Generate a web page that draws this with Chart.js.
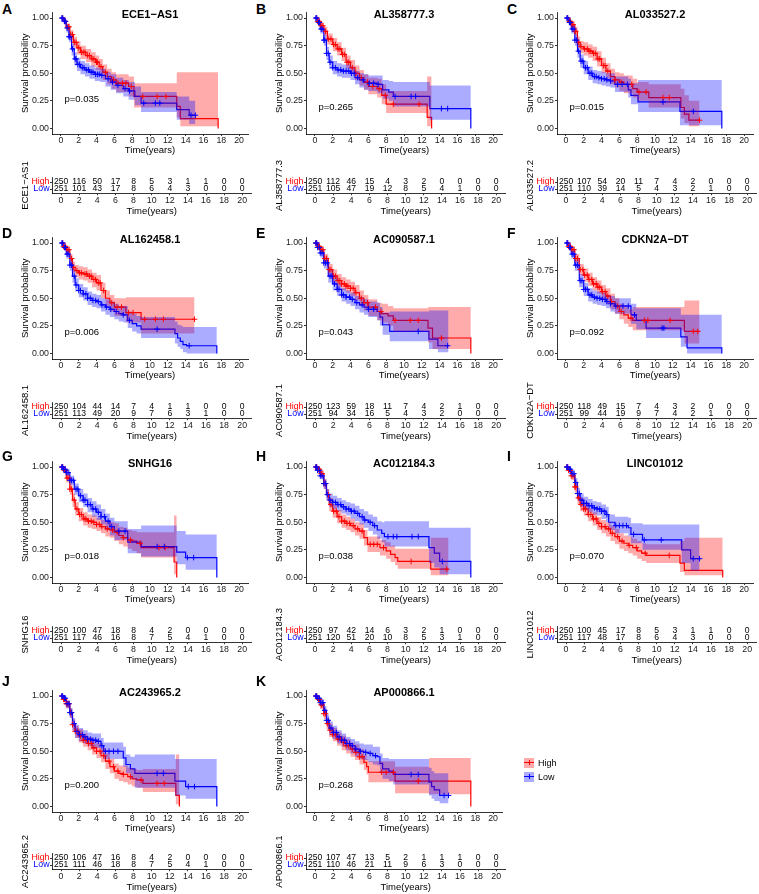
<!DOCTYPE html>
<html><head><meta charset="utf-8">
<script src="https://cdn.jsdelivr.net/npm/chart.js@4.4.0/dist/chart.umd.min.js"></script>
<style>
body{margin:0;background:#fff;width:759px;height:894px;position:relative;overflow:hidden;font-family:"Liberation Sans",Arial,sans-serif;}
canvas{position:absolute;}
.lt{position:absolute;font-weight:bold;font-size:14px;line-height:14px;color:#000;}
.lg{position:absolute;font-size:9px;line-height:10px;color:#000;}
</style></head><body>
<script>
// ---------------- DATA ----------------
const genes = ['ECE1−AS1','AL358777.3','AL033527.2','AL162458.1','AC090587.1','CDKN2A−DT','SNHG16','AC012184.3','LINC01012','AC243965.2','AP000866.1'];
const panelLetters = ['A','B','C','D','E','F','G','H','I','J','K'];
const pValues = [0.035,0.265,0.015,0.006,0.043,0.092,0.018,0.038,0.070,0.200,0.268];
const groupNames = ['High','Low'];
const riskTimes = [0,2,4,6,8,10,12,14,16,18,20];
const xTicks = [0,2,4,6,8,10,12,14,16,18,20];
const yTicks = [0,0.25,0.5,0.75,1];

// A ECE1-AS1
const A_high_t=[0,.3,.6,1.0,1.4,1.8,2.2,2.8,3.4,3.9,4.3,4.7,5.2,5.7,6.2,7.6,8.2,13.0,13.4,17.65];
const A_high_s=[1,.97,.92,.85,.78,.73,.69,.66,.63,.60,.56,.51,.47,.44,.41,.38,.29,.20,.09,0];
const A_high_lcl=[1,.95,.89,.80,.73,.67,.63,.60,.56,.53,.49,.44,.40,.36,.33,.29,.19,.10,.02,.02];
const A_high_ucl=[1,.99,.95,.89,.83,.79,.75,.72,.69,.66,.63,.58,.54,.51,.49,.47,.41,.51,.51,.51];
const A_high_cens=[0.2,0.4,0.5,0.8,0.9,1.1,1.3,1.5,1.7,2.0,2.3,2.5,2.7,3.0,3.2,3.5,3.7,4.0,4.1,4.5,5.0,5.9,6.4,6.9,7.3,7.9,9.2,10.8,11.8];
const A_low_t=[0,.3,.6,.9,1.2,1.5,1.8,2.2,2.7,3.2,3.8,4.4,5.0,5.6,6.2,7.0,7.6,8.3,9.0,13.0,14.4,15.1];
const A_low_s=[1,.97,.91,.83,.72,.63,.58,.55,.53,.51,.49,.48,.45,.42,.39,.36,.34,.29,.23,.17,.12,.12];
const A_low_lcl=[1,.95,.87,.78,.66,.57,.52,.49,.47,.45,.43,.42,.38,.35,.32,.29,.26,.21,.15,.08,.04,.04];
const A_low_ucl=[1,.99,.94,.87,.77,.69,.64,.61,.59,.57,.55,.54,.51,.49,.46,.44,.42,.38,.33,.29,.25,.25];
const A_low_cens=[0.1,0.2,0.4,0.5,0.7,0.9,1.0,1.3,1.6,1.7,1.9,2.1,2.4,2.6,2.9,3.1,3.4,3.6,3.9,4.1,4.3,4.6,5.3,5.8,6.4,7.2,7.7,9.3,10.6,11.1,14.6,15.1];
const A_high_risk=[250,116,50,17,8,5,3,1,1,0,0];
const A_low_risk=[251,101,43,17,8,6,4,3,0,0,0];

// B AL358777.3
const B_high_t=[0,.3,.6,1.0,1.4,2.0,2.5,3.0,3.5,4.0,4.5,5.0,5.5,6.0,7.0,7.5,8.0,12.6,13.1];
const B_high_s=[1,.97,.93,.88,.81,.76,.72,.67,.60,.55,.50,.46,.42,.38,.36,.30,.22,.10,0];
const B_high_lcl=[1,.95,.90,.84,.76,.70,.66,.61,.54,.49,.44,.39,.35,.31,.28,.22,.14,.02,.02];
const B_high_ucl=[1,.99,.96,.92,.86,.82,.78,.73,.66,.62,.57,.53,.49,.46,.45,.40,.34,.47,.47];
const B_high_cens=[0.2,0.3,0.5,0.7,0.9,1.2,1.5,1.8,2.1,2.3,2.6,2.8,3.1,3.3,3.6,3.8,4.2,4.6,5.2,5.9,6.5,7.2,7.9,8.8,11.7];
const B_low_t=[0,.3,.6,1.0,1.3,1.6,2.0,2.5,3.0,4.0,4.5,5.0,5.5,6.0,7.0,7.6,8.3,8.8,12.9,17.5];
const B_low_s=[1,.96,.90,.80,.68,.60,.55,.53,.52,.50,.46,.44,.42,.41,.40,.35,.33,.29,.18,0];
const B_low_lcl=[1,.94,.86,.75,.62,.54,.49,.47,.46,.44,.40,.37,.35,.34,.32,.27,.25,.20,.08,.08];
const B_low_ucl=[1,.98,.94,.85,.74,.66,.61,.59,.58,.56,.52,.50,.49,.48,.48,.44,.43,.42,.39,.39];
const B_low_cens=[0.1,0.2,0.4,0.5,0.7,0.8,1.0,1.1,1.3,1.5,1.7,2.0,2.3,2.6,2.9,3.2,3.5,3.8,4.1,4.4,4.8,5.4,6.1,6.6,7.1,9.0,10.8,11.3,14.2,14.9];
const B_high_risk=[250,112,46,15,4,3,2,0,0,0,0];
const B_low_risk=[251,105,47,19,12,8,5,4,1,0,0];

// C AL033527.2
const C_high_t=[0,.3,.6,1.0,1.3,1.6,2.0,2.5,3.0,3.5,4.0,4.5,5.0,5.5,6.0,6.5,7.5,8.0,9.3,12.9,13.3,13.8,15.0];
const C_high_s=[1,.97,.94,.88,.78,.74,.72,.70,.68,.63,.57,.52,.47,.44,.42,.40,.36,.33,.28,.19,.13,.075,.075];
const C_high_lcl=[1,.95,.91,.84,.73,.68,.66,.64,.61,.56,.50,.45,.40,.37,.34,.32,.28,.25,.19,.09,.05,.02,.02];
const C_high_ucl=[1,.99,.97,.92,.83,.79,.78,.76,.74,.70,.64,.59,.54,.51,.50,.48,.45,.42,.40,.36,.30,.25,.25];
const C_high_cens=[0.2,0.4,0.5,0.7,0.8,1.0,1.1,1.4,1.7,2.1,2.4,2.6,2.8,3.1,3.3,3.6,3.8,4.2,4.4,4.7,5.5,6.2,7.4,8.2,9.0,10.9,11.6,15.0];
const C_low_t=[0,.3,.6,1.0,1.3,1.6,2.0,2.5,3.0,3.5,4.0,4.5,5.0,5.5,7.0,7.3,8.1,12.8,17.5];
const C_low_s=[1,.96,.90,.80,.70,.61,.55,.50,.47,.46,.45,.44,.43,.40,.35,.30,.24,.155,0];
const C_low_lcl=[1,.94,.86,.75,.64,.55,.49,.44,.41,.40,.39,.38,.37,.33,.28,.22,.15,.03,.03];
const C_low_ucl=[1,.98,.94,.85,.76,.67,.61,.56,.53,.52,.51,.50,.50,.47,.45,.41,.44,.44,.44];
const C_low_cens=[0.1,0.2,0.4,0.5,0.7,0.9,1.0,1.2,1.4,1.7,1.9,2.2,2.4,2.7,2.9,3.2,3.4,3.7,4.0,4.3,4.6,5.0,5.8,6.3,6.9,10.9,14.3];
const C_high_risk=[250,107,54,20,11,7,4,2,0,0,0];
const C_low_risk=[251,110,39,14,5,4,3,2,1,0,0];

// D AL162458.1
const D_high_t=[0,.3,.6,1.0,1.3,1.6,2.0,2.5,3.0,3.5,4.0,4.5,5.0,5.5,6.0,7.3,9.0,15.0];
const D_high_s=[1,.97,.94,.86,.78,.75,.73,.72,.70,.67,.64,.57,.50,.46,.42,.37,.31,.31];
const D_high_lcl=[1,.95,.91,.81,.73,.69,.67,.66,.64,.60,.57,.50,.43,.38,.34,.28,.18,.18];
const D_high_ucl=[1,.99,.97,.90,.83,.80,.79,.78,.76,.73,.71,.64,.57,.53,.50,.51,.51,.51];
const D_high_cens=[0.2,0.3,0.5,0.7,0.9,1.2,1.4,1.8,2.1,2.3,2.7,2.9,3.2,3.4,3.7,3.9,4.2,4.4,4.8,5.7,6.3,6.8,7.6,8.1,9.4,10.6,11.5,15.0];
const D_low_t=[0,.3,.6,1.0,1.3,1.6,2.0,2.5,3.0,3.5,4.0,4.5,5.0,5.5,6.0,6.5,7.0,7.5,8.0,8.5,9.0,12.8,13.1,13.4,13.7,14.1,17.5];
const D_low_s=[1,.96,.90,.80,.70,.62,.57,.54,.50,.48,.47,.44,.42,.40,.38,.36,.35,.30,.27,.25,.22,.18,.14,.11,.08,.07,0];
const D_low_lcl=[1,.94,.86,.75,.64,.56,.51,.48,.44,.42,.41,.38,.35,.33,.31,.29,.28,.23,.20,.18,.14,.09,.06,.04,.01,0,0];
const D_low_ucl=[1,.98,.94,.85,.76,.68,.63,.60,.56,.54,.53,.50,.49,.47,.45,.43,.43,.38,.36,.34,.33,.29,.26,.25,.24,.24,.24];
const D_low_cens=[0.1,0.2,0.4,0.5,0.7,0.8,1.0,1.2,1.5,1.7,2.0,2.2,2.5,2.8,3.0,3.3,3.6,3.9,4.2,4.6,5.1,5.6,6.2,7.0,7.7,10.8,14.4];
const D_high_risk=[250,104,44,14,7,4,1,1,0,0,0];
const D_low_risk=[251,113,49,20,9,7,6,3,1,0,0];

// E AC090587.1
const E_high_t=[0,.3,.6,1.0,1.5,2.0,2.5,3.0,3.5,4.0,4.5,5.0,5.5,6.0,7.0,7.5,8.2,8.8,12.7,13.2,17.5];
const E_high_s=[1,.97,.94,.86,.76,.70,.66,.63,.61,.59,.55,.50,.46,.42,.38,.36,.34,.30,.23,.14,0];
const E_high_lcl=[1,.95,.91,.82,.71,.64,.60,.57,.55,.52,.48,.43,.39,.34,.30,.28,.25,.20,.10,.04,.04];
const E_high_ucl=[1,.99,.97,.90,.81,.76,.72,.69,.67,.65,.62,.57,.53,.49,.46,.45,.43,.41,.42,.42,.42];
const E_high_cens=[0.1,0.2,0.4,0.5,0.7,0.9,1.1,1.3,1.6,1.8,2.1,2.3,2.6,2.8,3.0,3.3,3.5,3.7,4.0,4.3,4.6,5.2,5.5,5.9,6.8,7.4,9.0,10.7,11.6,14.2];
const E_low_t=[0,.3,.6,1.0,1.5,2.0,2.5,3.0,3.5,4.0,4.5,5.0,5.5,6.0,7.0,7.3,7.6,8.4,12.8,13.8,15.0];
const E_low_s=[1,.96,.91,.82,.70,.63,.58,.53,.51,.49,.46,.44,.42,.40,.38,.33,.26,.20,.13,.07,.07];
const E_low_lcl=[1,.94,.87,.77,.64,.57,.52,.47,.45,.43,.40,.37,.35,.33,.30,.25,.17,.11,.04,.01,.01];
const E_low_ucl=[1,.98,.95,.87,.76,.69,.64,.59,.57,.55,.52,.51,.49,.47,.46,.42,.37,.38,.39,.39,.39];
const E_low_cens=[0.1,0.2,0.3,0.5,0.6,0.8,1.0,1.2,1.4,1.7,1.9,2.2,2.5,2.7,3.0,3.2,3.5,3.9,4.2,4.7,5.3,6.0,6.6,11.6,14.9];
const E_high_risk=[250,123,59,18,11,7,4,2,1,0,0];
const E_low_risk=[251,94,34,16,5,4,3,2,0,0,0];

// F CDKN2A-DT
const F_high_t=[0,.3,.6,1.0,1.5,2.0,2.5,3.0,3.5,4.0,4.5,5.0,5.5,6.0,6.5,7.0,7.5,13.3,15.0];
const F_high_s=[1,.97,.94,.86,.76,.71,.67,.63,.60,.56,.52,.47,.43,.38,.35,.32,.30,.20,.20];
const F_high_lcl=[1,.95,.91,.82,.71,.65,.61,.57,.54,.49,.45,.40,.36,.31,.27,.24,.21,.09,.09];
const F_high_ucl=[1,.99,.97,.90,.81,.77,.73,.69,.66,.62,.59,.54,.50,.45,.43,.40,.42,.48,.48];
const F_high_cens=[0.2,0.3,0.5,0.7,0.9,1.1,1.3,1.6,1.9,2.1,2.4,2.6,2.9,3.1,3.4,3.6,3.8,4.1,4.4,4.7,5.1,5.8,6.2,7.3,8.8,9.2,11.7,14.3,14.8];
const F_low_t=[0,.3,.6,1.0,1.5,2.0,2.5,3.0,3.5,4.0,4.5,5.0,5.5,7.3,7.9,9.0,12.9,13.6,17.5];
const F_low_s=[1,.96,.90,.80,.66,.58,.53,.51,.50,.49,.47,.45,.43,.35,.30,.23,.15,.05,0];
const F_low_lcl=[1,.94,.86,.75,.60,.52,.47,.45,.44,.43,.41,.38,.36,.27,.22,.14,.06,0,0];
const F_low_ucl=[1,.98,.94,.85,.72,.64,.59,.57,.56,.55,.53,.52,.50,.45,.41,.41,.35,.35,.35];
const F_low_cens=[0.1,0.2,0.4,0.5,0.7,0.9,1.1,1.3,1.6,1.8,2.0,2.2,2.4,2.7,2.9,3.2,3.5,3.8,4.1,4.4,4.6,5.0,5.6,6.4,7.0,7.7,10.8,11.0];
const F_high_risk=[250,118,49,15,7,4,3,2,0,0,0];
const F_low_risk=[251,99,44,19,9,7,4,2,1,0,0];

// G SNHG16
const G_high_t=[0,.3,.6,1.0,1.3,1.6,2.0,2.5,3.0,3.5,4.0,4.5,5.0,5.5,6.0,6.5,7.0,7.5,8.0,8.5,9.0,12.7,13.0];
const G_high_s=[1,.97,.90,.80,.70,.62,.57,.53,.51,.50,.48,.46,.44,.43,.41,.38,.36,.34,.33,.31,.27,.14,0];
const G_high_lcl=[1,.95,.86,.75,.64,.56,.51,.47,.45,.44,.42,.40,.37,.36,.33,.30,.28,.26,.24,.22,.18,.03,.03];
const G_high_ucl=[1,.99,.94,.85,.76,.68,.63,.59,.57,.56,.54,.52,.51,.50,.49,.46,.45,.43,.42,.41,.41,.56,.56];
const G_high_cens=[0.1,0.2,0.4,0.5,0.7,0.9,1.0,1.2,1.5,1.8,2.1,2.3,2.6,2.8,3.1,3.4,3.7,4.0,4.3,4.6,5.2,5.8,6.3,7.0,7.8,8.9,11.0,11.7];
const G_low_t=[0,.3,.6,1.0,1.5,2.0,2.5,3.0,3.5,4.0,4.5,5.0,5.5,6.0,7.5,9.0,13.0,14.0,17.5];
const G_low_s=[1,.98,.95,.88,.80,.74,.70,.66,.62,.59,.55,.51,.46,.42,.32,.28,.23,.18,0];
const G_low_lcl=[1,.97,.92,.84,.75,.68,.64,.59,.55,.52,.48,.43,.38,.34,.22,.19,.12,.07,.07];
const G_low_ucl=[1,.99,.98,.92,.85,.80,.76,.72,.69,.66,.62,.58,.54,.51,.44,.47,.42,.39,.39];
const G_low_cens=[0.1,0.2,0.3,0.5,0.6,0.8,1.0,1.2,1.4,1.7,1.9,2.2,2.5,2.7,3.0,3.3,3.6,3.9,4.2,4.5,4.9,5.3,5.7,6.5,7.2,10.8,11.6,14.2,14.9];
const G_high_risk=[250,100,47,18,8,4,2,0,0,0,0];
const G_low_risk=[251,117,46,16,8,7,5,4,1,0,0];

// H AC012184.3
const H_high_t=[0,.3,.6,1.0,1.3,1.6,2.0,2.5,3.0,3.5,4.0,4.5,5.0,5.5,5.9,7.3,8.0,8.5,9.0,9.3,13.0,15.0];
const H_high_s=[1,.98,.94,.85,.75,.66,.60,.55,.51,.49,.47,.44,.42,.36,.30,.27,.24,.21,.18,.145,.075,.075];
const H_high_lcl=[1,.96,.91,.80,.70,.60,.54,.49,.45,.43,.41,.38,.35,.29,.23,.20,.17,.14,.11,.08,.02,.02];
const H_high_ucl=[1,1,.97,.89,.80,.72,.66,.61,.57,.55,.53,.50,.49,.43,.37,.34,.32,.29,.26,.26,.36,.36];
const H_high_cens=[0.1,0.2,0.3,0.4,0.5,0.7,0.8,1.0,1.2,1.5,1.8,2.1,2.4,2.7,3.0,3.3,3.6,3.9,4.3,4.8,5.3,6.2,6.6,7.0,7.7,10.8,14.8];
const H_low_t=[0,.3,.6,1.0,1.3,1.6,2.0,2.5,3.0,3.5,4.0,4.5,5.0,5.5,6.0,6.5,7.0,7.5,7.8,12.8,13.4,14.0,17.5];
const H_low_s=[1,.97,.92,.85,.75,.70,.68,.66,.64,.62,.60,.58,.55,.52,.50,.47,.43,.40,.37,.27,.22,.145,0];
const H_low_lcl=[1,.95,.89,.80,.70,.64,.62,.60,.58,.56,.53,.51,.48,.45,.42,.39,.35,.32,.28,.13,.09,.03,.03];
const H_low_ucl=[1,.99,.95,.89,.80,.76,.74,.72,.70,.68,.67,.65,.62,.60,.57,.55,.51,.50,.51,.45,.45,.45,.45];
const H_low_cens=[0.1,0.2,0.3,0.5,0.6,0.8,1.0,1.2,1.4,1.7,2.0,2.3,2.6,2.9,3.2,3.5,3.8,4.1,4.4,4.8,5.3,5.6,6.2,6.7,8.2,8.8,9.2,10.9,11.6,14.3];
const H_high_risk=[250,97,42,14,6,3,2,1,0,0,0];
const H_low_risk=[251,120,51,20,10,8,5,3,1,0,0];

// I LINC01012
const I_high_t=[0,.3,.6,1.0,1.3,1.6,2.0,2.5,3.0,3.5,4.0,4.5,5.0,5.5,6.0,6.5,7.0,7.5,8.0,8.5,9.0,12.8,13.3,17.6];
const I_high_s=[1,.97,.92,.82,.72,.66,.62,.57,.53,.49,.46,.44,.40,.37,.33,.31,.29,.27,.24,.22,.20,.13,.065,0];
const I_high_lcl=[1,.95,.88,.77,.66,.60,.56,.51,.47,.43,.40,.37,.33,.30,.26,.24,.22,.20,.17,.15,.13,.05,.02,.02];
const I_high_ucl=[1,.99,.95,.87,.77,.72,.68,.63,.59,.55,.52,.50,.47,.44,.40,.38,.37,.35,.33,.31,.30,.33,.36,.36];
const I_high_cens=[0.1,0.2,0.3,0.5,0.6,0.8,1.0,1.1,1.4,1.7,2.0,2.2,2.5,2.8,3.1,3.4,3.7,4.0,4.4,4.8,5.2,5.8,6.3,7.1,7.9,8.9,11.6];
const I_low_t=[0,.3,.6,1.0,1.3,1.6,2.0,2.5,3.0,3.5,4.0,4.5,4.8,5.5,7.0,7.3,8.6,13.0,14.0,15.0];
const I_low_s=[1,.98,.94,.86,.76,.70,.67,.65,.63,.62,.60,.57,.50,.47,.45,.39,.34,.25,.17,.17];
const I_low_lcl=[1,.96,.91,.81,.70,.64,.61,.59,.57,.56,.53,.50,.43,.40,.37,.31,.25,.13,.06,.06];
const I_low_ucl=[1,1,.97,.90,.81,.76,.73,.71,.69,.68,.66,.64,.57,.55,.54,.49,.48,.48,.48,.48];
const I_low_cens=[0.1,0.2,0.4,0.5,0.7,0.9,1.1,1.3,1.5,1.8,2.0,2.3,2.6,2.9,3.2,3.5,3.8,4.0,4.3,4.6,5.6,6.0,6.4,6.8,7.6,8.8,10.7,14.3,15.0];
const I_high_risk=[250,100,45,17,8,5,3,1,1,0,0];
const I_low_risk=[251,117,48,17,8,6,4,3,0,0,0];

// J AC243965.2
const J_high_t=[0,.3,.6,1.0,1.3,1.6,2.0,2.5,3.0,3.5,4.0,4.5,5.0,5.5,6.0,6.5,7.0,7.5,8.0,8.5,9.2,12.9,13.3];
const J_high_s=[1,.97,.93,.85,.74,.68,.64,.60,.57,.53,.50,.46,.41,.36,.32,.30,.29,.27,.25,.24,.21,.10,0];
const J_high_lcl=[1,.95,.89,.80,.68,.62,.58,.54,.51,.47,.44,.40,.34,.30,.25,.23,.22,.20,.18,.17,.13,.02,.02];
const J_high_ucl=[1,.99,.96,.89,.79,.73,.70,.66,.63,.59,.57,.53,.48,.43,.39,.37,.37,.35,.34,.33,.34,.47,.47];
const J_high_cens=[0.1,0.3,0.4,0.6,0.7,0.9,1.1,1.3,1.6,1.9,2.2,2.5,2.8,3.1,3.4,3.7,4.0,4.4,4.8,5.4,5.9,6.4,7.0,7.8,9.0,10.8,11.6];
const J_low_t=[0,.3,.6,1.0,1.3,1.6,2.0,2.5,3.0,3.5,4.0,4.5,4.8,7.0,7.3,7.8,8.3,12.8,14.0,17.5];
const J_low_s=[1,.98,.93,.85,.75,.68,.65,.63,.61,.60,.59,.55,.50,.44,.38,.34,.30,.23,.18,0];
const J_low_lcl=[1,.96,.89,.80,.69,.62,.59,.57,.55,.53,.53,.48,.43,.36,.30,.25,.17,.10,.07,.07];
const J_low_ucl=[1,1,.96,.89,.80,.74,.71,.69,.67,.66,.66,.62,.58,.54,.47,.45,.47,.43,.43,.43];
const J_low_cens=[0.1,0.2,0.4,0.5,0.7,0.9,1.0,1.2,1.5,1.8,2.1,2.4,2.7,3.0,3.3,3.6,3.9,4.2,4.6,5.0,5.4,5.9,6.4,10.8,11.5,14.3,15.0];
const J_high_risk=[250,106,47,16,8,4,2,0,0,0,0];
const J_low_risk=[251,111,46,18,8,7,5,4,1,0,0];

// K AP000866.1
const K_high_t=[0,.3,.6,1.0,1.3,1.6,2.0,2.5,3.0,3.5,4.0,4.5,5.0,5.5,5.8,6.0,9.0,12.8,17.5];
const K_high_s=[1,.97,.92,.84,.75,.69,.65,.61,.58,.55,.52,.49,.45,.40,.36,.31,.23,.23,0];
const K_high_lcl=[1,.95,.88,.79,.70,.63,.59,.55,.51,.48,.45,.42,.38,.33,.29,.22,.12,.11,.11];
const K_high_ucl=[1,.99,.95,.88,.80,.75,.71,.67,.64,.61,.58,.56,.52,.47,.43,.41,.36,.44,.44];
const K_high_cens=[0.1,0.2,0.4,0.5,0.7,0.8,1.0,1.2,1.4,1.7,2.0,2.3,2.6,2.9,3.2,3.5,3.8,4.2,4.6,5.0,5.3,7.5,8.0,8.8,11.6];
const K_low_t=[0,.3,.6,1.0,1.3,1.6,2.0,2.5,3.0,3.5,4.0,4.5,5.0,5.5,6.0,6.5,7.0,7.3,7.6,8.3,8.8,12.8,13.1,13.4,14.0,15.0];
const K_low_s=[1,.98,.94,.87,.78,.71,.67,.63,.60,.57,.55,.52,.50,.49,.48,.46,.45,.39,.34,.32,.29,.22,.18,.15,.10,.10];
const K_low_lcl=[1,.96,.91,.83,.73,.65,.61,.57,.54,.51,.48,.45,.43,.42,.40,.38,.37,.30,.25,.23,.20,.10,.07,.05,.03,.03];
const K_low_ucl=[1,1,.97,.91,.83,.77,.73,.69,.66,.63,.61,.59,.57,.56,.56,.54,.54,.48,.44,.43,.43,.35,.32,.30,.30,.30];
const K_low_cens=[0.1,0.2,0.3,0.5,0.6,0.8,0.9,1.1,1.3,1.5,1.8,2.1,2.4,2.7,3.0,3.3,3.6,3.9,4.2,4.6,5.1,5.7,6.2,6.8,10.8,11.6,14.5,15.0];
const K_high_risk=[250,107,47,13,5,2,1,1,1,0,0];
const K_low_risk=[251,110,46,21,11,9,6,3,0,0,0];

// ---------------- LAYOUT / STYLE ----------------
const colX = [0, 254, 505];
const rowY = [0, 225, 449, 678];
const letterTop = [2, 226, 449, 674];
const tableShift = [0, 0, 0, -2];
const pLabelY = [0.26,0.19,0.19,0.19,0.19,0.19,0.19,0.19,0.19,0.19,0.19];
const pLabelX = 0.4;
const RED = '#FF0000', BLUE = '#0000FF';
const RED_FILL = 'rgba(255,0,0,0.33)', BLUE_FILL = 'rgba(0,0,255,0.33)';
const FF = '"Liberation Sans", Arial, sans-serif';
const TICK = '#1a1a1a';

function grp(t,s,lcl,ucl,cens,risk){return {t,s,lcl,ucl,cens,risk};}
const panels = [
 [grp(A_high_t,A_high_s,A_high_lcl,A_high_ucl,A_high_cens,A_high_risk), grp(A_low_t,A_low_s,A_low_lcl,A_low_ucl,A_low_cens,A_low_risk)],
 [grp(B_high_t,B_high_s,B_high_lcl,B_high_ucl,B_high_cens,B_high_risk), grp(B_low_t,B_low_s,B_low_lcl,B_low_ucl,B_low_cens,B_low_risk)],
 [grp(C_high_t,C_high_s,C_high_lcl,C_high_ucl,C_high_cens,C_high_risk), grp(C_low_t,C_low_s,C_low_lcl,C_low_ucl,C_low_cens,C_low_risk)],
 [grp(D_high_t,D_high_s,D_high_lcl,D_high_ucl,D_high_cens,D_high_risk), grp(D_low_t,D_low_s,D_low_lcl,D_low_ucl,D_low_cens,D_low_risk)],
 [grp(E_high_t,E_high_s,E_high_lcl,E_high_ucl,E_high_cens,E_high_risk), grp(E_low_t,E_low_s,E_low_lcl,E_low_ucl,E_low_cens,E_low_risk)],
 [grp(F_high_t,F_high_s,F_high_lcl,F_high_ucl,F_high_cens,F_high_risk), grp(F_low_t,F_low_s,F_low_lcl,F_low_ucl,F_low_cens,F_low_risk)],
 [grp(G_high_t,G_high_s,G_high_lcl,G_high_ucl,G_high_cens,G_high_risk), grp(G_low_t,G_low_s,G_low_lcl,G_low_ucl,G_low_cens,G_low_risk)],
 [grp(H_high_t,H_high_s,H_high_lcl,H_high_ucl,H_high_cens,H_high_risk), grp(H_low_t,H_low_s,H_low_lcl,H_low_ucl,H_low_cens,H_low_risk)],
 [grp(I_high_t,I_high_s,I_high_lcl,I_high_ucl,I_high_cens,I_high_risk), grp(I_low_t,I_low_s,I_low_lcl,I_low_ucl,I_low_cens,I_low_risk)],
 [grp(J_high_t,J_high_s,J_high_lcl,J_high_ucl,J_high_cens,J_high_risk), grp(J_low_t,J_low_s,J_low_lcl,J_low_ucl,J_low_cens,J_low_risk)],
 [grp(K_high_t,K_high_s,K_high_lcl,K_high_ucl,K_high_cens,K_high_risk), grp(K_low_t,K_low_s,K_low_lcl,K_low_ucl,K_low_cens,K_low_risk)]
];

Chart.defaults.font.family = FF;
Chart.defaults.animation = false;

function stepAt(ts, ss, c){ let v = ss[0]; for (let i=0;i<ts.length;i++){ if (ts[i] <= c + 1e-9) v = ss[i]; else break; } return v; }
function pts(t, v){ return t.map((x,i)=>({x, y:v[i]})); }

function xScale(h, padB){
  return {type:'linear', min:-1, max:21,
    afterBuildTicks: s => { s.ticks = xTicks.map(v=>({value:v})); },
    afterFit: s => { s.height = h; },
    ticks:{font:{size:8.8, lineHeight:1}, color:TICK, padding:0.5, maxRotation:0, autoSkip:false, callback:v=>String(v)},
    grid:{display:true, drawOnChartArea:false, drawTicks:true, tickLength:2, tickColor:'#000', tickWidth:0.8},
    border:{display:true, color:'#000', width:0.8},
    title:{display:true, text:'Time(years)', font:{size:9.5, lineHeight:1.2}, color:'#000', padding:{top:0, bottom:padB}}
  };
}

const kmText = {
  id:'kmText',
  afterDraw(chart, args, o){
    const {ctx, chartArea, scales} = chart;
    ctx.save();
    ctx.fillStyle = '#000';
    ctx.font = 'bold 11px ' + FF;
    ctx.textAlign = 'center'; ctx.textBaseline = 'middle';
    ctx.fillText(o.title, (chartArea.left + chartArea.right)/2, o.titleY);
    ctx.font = '9.5px ' + FF;
    ctx.textAlign = 'left';
    ctx.fillText('p=' + o.p.toFixed(3), scales.x.getPixelForValue(pLabelX), scales.y.getPixelForValue(o.py));
    ctx.restore();
  }
};
const riskText = {
  id:'riskText',
  afterDraw(chart, args, o){
    const {ctx, scales} = chart;
    ctx.save();
    ctx.fillStyle = '#000';
    ctx.font = '8.6px ' + FF;
    ctx.textAlign = 'center'; ctx.textBaseline = 'middle';
    riskTimes.forEach((t,i)=>{
      const x = scales.x.getPixelForValue(t);
      ctx.fillText(String(o.high[i]), x, scales.y.getPixelForValue(2));
      ctx.fillText(String(o.low[i]), x, scales.y.getPixelForValue(1));
    });
    ctx.restore();
  }
};

function addCanvas(x, y, w, h){
  const c = document.createElement('canvas');
  c.width = w; c.height = h;
  c.style.left = x + 'px'; c.style.top = y + 'px';
  c.style.width = w + 'px'; c.style.height = h + 'px';
  document.body.appendChild(c);
  return c;
}

panels.forEach((pg, i) => {
  const col = i % 3, row = Math.floor(i / 3);
  const ox = colX[col], oy = rowY[row];
  const hi = pg[0], lo = pg[1];

  const L = document.createElement('div');
  L.className = 'lt'; L.textContent = panelLetters[i];
  L.style.left = (ox + 2) + 'px'; L.style.top = letterTop[row] + 'px';
  document.body.appendChild(L);

  const cens = g => g.cens.map(c => ({x:c, y:stepAt(g.t, g.s, c)}));
  const band = (data, fill, bg, order) => ({data, stepped:true, borderWidth:0, borderColor:'rgba(0,0,0,0)', pointRadius:0, fill, backgroundColor:bg, order});
  const c1 = addCanvas(ox, oy, 253, 160);
  new Chart(c1, {
    type:'line',
    data:{datasets:[
      {data:cens(lo), showLine:false, pointStyle:'cross', pointRadius:2.8, pointBorderColor:BLUE, pointBackgroundColor:BLUE, pointBorderWidth:1, fill:false, order:1},
      {data:cens(hi), showLine:false, pointStyle:'cross', pointRadius:2.8, pointBorderColor:RED, pointBackgroundColor:RED, pointBorderWidth:1, fill:false, order:2},
      band(pts(lo.t, lo.ucl), 3, BLUE_FILL, 3),
      band(pts(lo.t, lo.lcl), false, undefined, 3),
      band(pts(hi.t, hi.ucl), 5, RED_FILL, 4),
      band(pts(hi.t, hi.lcl), false, undefined, 4),
      {data:pts(lo.t, lo.s), stepped:true, borderColor:BLUE, borderWidth:1.2, pointRadius:0, fill:false, order:5},
      {data:pts(hi.t, hi.s), stepped:true, borderColor:RED, borderWidth:1.2, pointRadius:0, fill:false, order:6}
    ]},
    options:{
      responsive:false, devicePixelRatio:1, animation:false, events:[],
      layout:{padding:{left:0, top:12.5, right:1.7, bottom:0}},
      plugins:{legend:{display:false}, tooltip:{enabled:false}, colors:{enabled:false},
        kmText:{title:genes[i], titleY:14.5, p:pValues[i], py:pLabelY[i]}},
      scales:{
        x: xScale(26, 3.5),
        y: {type:'linear', min:-0.05, max:1.05,
          afterBuildTicks: s => { s.ticks = yTicks.map(v=>({value:v})); },
          afterFit: s => { s.width = 52; },
          ticks:{font:{size:8.8}, color:TICK, padding:1, callback:v=>Number(v).toFixed(2)},
          grid:{display:true, drawOnChartArea:false, drawTicks:true, tickLength:2, tickColor:'#000', tickWidth:0.8},
          border:{display:true, color:'#000', width:0.8},
          title:{display:true, text:'Survival probability', font:{size:9.5, lineHeight:1.2}, color:'#000', padding:{top:19.3, bottom:0}}
        }
      }
    },
    plugins:[kmText]
  });

  const c2 = addCanvas(ox, oy + 152 + tableShift[row], 253, 70);
  new Chart(c2, {
    type:'line',
    data:{datasets:[{data:[], pointRadius:0, borderWidth:0}]},
    options:{
      responsive:false, devicePixelRatio:1, animation:false, events:[],
      layout:{padding:{left:0, top:25.8, right:1.7, bottom:0}},
      plugins:{legend:{display:false}, tooltip:{enabled:false}, colors:{enabled:false},
        riskText:{high:hi.risk, low:lo.risk}},
      scales:{
        x: xScale(28.8, 5.3),
        y: {type:'linear', min:0.4, max:2.6,
          afterBuildTicks: s => { s.ticks = [{value:1},{value:2}]; },
          afterFit: s => { s.width = 52; },
          ticks:{font:{size:8.8}, padding:0.5, color: c => (c.tick && c.tick.value === 2) ? RED : BLUE,
            callback: v => v === 2 ? groupNames[0] : groupNames[1]},
          grid:{display:true, drawOnChartArea:false, drawTicks:true, tickLength:2, tickColor:'#000', tickWidth:0.8},
          border:{display:true, color:'#000', width:0.8},
          title:{display:true, text:genes[i], font:{size:9.5, lineHeight:1.2}, color:'#000', padding:{top:19.3, bottom:0}}
        }
      }
    },
    plugins:[riskText]
  });
});

// legend
const legendColors = [[RED, RED_FILL],[BLUE, BLUE_FILL]];
groupNames.forEach((name, k) => {
  const top = 757.5 + k * 14;
  const box = document.createElement('div');
  box.style.cssText = `position:absolute;left:524px;top:${top}px;width:10px;height:10px;background:${legendColors[k][1]};`;
  const hl = document.createElement('div');
  hl.style.cssText = `position:absolute;left:0;top:4.5px;width:10px;height:1.2px;background:${legendColors[k][0]};`;
  const vl = document.createElement('div');
  vl.style.cssText = `position:absolute;left:4.5px;top:2.5px;width:1px;height:5px;background:${legendColors[k][0]};`;
  box.appendChild(hl); box.appendChild(vl);
  document.body.appendChild(box);
  const tx = document.createElement('div');
  tx.className = 'lg'; tx.textContent = name;
  tx.style.left = '538px'; tx.style.top = (top) + 'px';
  document.body.appendChild(tx);
});
</script>
</body></html>
